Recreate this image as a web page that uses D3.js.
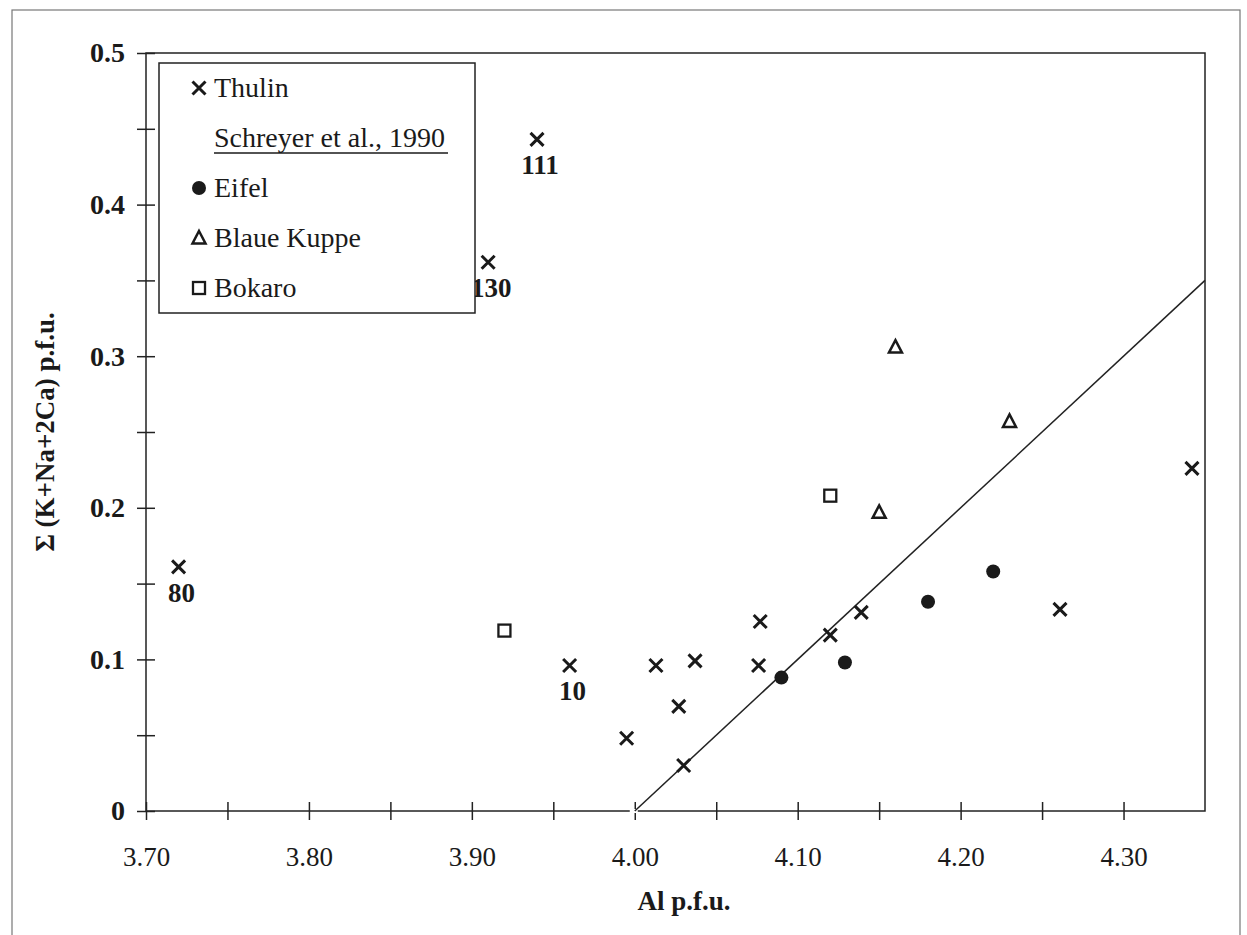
<!DOCTYPE html>
<html>
<head>
<meta charset="utf-8">
<script src="https://cdn.jsdelivr.net/npm/d3@7"></script>
<style>
  body { margin: 0; background: #fff; }
</style>
</head>
<body>
<svg id="chart" width="1247" height="935"></svg>
<script>
// data
const thulinAl  = [3.72, 3.94, 3.91, 3.96, 3.995, 4.013, 4.027, 4.03, 4.037, 4.077, 4.076, 4.12, 4.139, 4.261, 4.342];
const thulinSum = [0.161, 0.443, 0.362, 0.096, 0.048, 0.096, 0.069, 0.030, 0.099, 0.125, 0.096, 0.116, 0.131, 0.133, 0.226];
const thulinLab = ["80", "111", "130", "10", "", "", "", "", "", "", "", "", "", "", ""];

const eifelAl  = [4.09, 4.129, 4.18, 4.22];
const eifelSum = [0.088, 0.098, 0.138, 0.158];

const blaueAl  = [4.16, 4.23, 4.15];
const blaueSum = [0.306, 0.257, 0.197];

const bokaroAl  = [4.12, 3.92];
const bokaroSum = [0.208, 0.119];

const lineAl  = [4.00, 4.35];
const lineSum = [0.00, 0.35];

const xTicks = [3.70, 3.75, 3.80, 3.85, 3.90, 3.95, 4.00, 4.05, 4.10, 4.15, 4.20, 4.25, 4.30];
const xTickLabels = ["3.70", "", "3.80", "", "3.90", "", "4.00", "", "4.10", "", "4.20", "", "4.30"];
const yTicks = [0, 0.05, 0.1, 0.15, 0.2, 0.25, 0.3, 0.35, 0.4, 0.45, 0.5];
const yTickLabels = ["0", "", "0.1", "", "0.2", "", "0.3", "", "0.4", "", "0.5"];

const legendItems = ["Thulin", "Schreyer et al., 1990", "Eifel", "Blaue Kuppe", "Bokaro"];

const serif = "'Liberation Serif', 'Times New Roman', Times, serif";
const ink = "#1a1a1a";

const svg = d3.select("#chart");

// scanned page frame
svg.append("rect")
  .attr("x", 12).attr("y", 10).attr("width", 1228).attr("height", 940)
  .attr("fill", "none").attr("stroke", "#777").attr("stroke-width", 1.2);

const x = d3.scaleLinear().domain([3.70, 4.35]).range([146, 1205]);
const y = d3.scaleLinear().domain([0, 0.5]).range([811, 53]);

// plot frame
svg.append("rect")
  .attr("x", x(3.70)).attr("y", y(0.5))
  .attr("width", x(4.35) - x(3.70)).attr("height", y(0) - y(0.5))
  .attr("fill", "none").attr("stroke", "#222").attr("stroke-width", 1.5);

// x axis
const xAxis = svg.append("g")
  .attr("transform", `translate(0,${y(0)})`)
  .call(d3.axisBottom(x).tickValues(xTicks).tickSize(0).tickPadding(36)
    .tickFormat((d, i) => xTickLabels[i]))
  .attr("font-family", serif);
xAxis.select(".domain").remove();
xAxis.selectAll(".tick line").attr("y1", -9).attr("y2", 9).attr("stroke", "#222").attr("stroke-width", 1.5);
xAxis.selectAll(".tick text")
  .style("font-family", serif).style("font-size", "27px").attr("fill", ink);

// y axis
const yAxis = svg.append("g")
  .attr("transform", `translate(${x(3.70)},0)`)
  .call(d3.axisLeft(y).tickValues(yTicks).tickSize(0).tickPadding(21)
    .tickFormat((d, i) => yTickLabels[i]))
  .attr("font-family", serif);
yAxis.select(".domain").remove();
yAxis.selectAll(".tick line").attr("x1", -9).attr("x2", 9).attr("stroke", "#222").attr("stroke-width", 1.5);
yAxis.selectAll(".tick text")
  .style("font-family", serif).style("font-size", "28px").style("font-weight", "bold").attr("fill", ink);

// small break in the axis at 4.00
svg.append("rect")
  .attr("x", x(4.00) - 5).attr("y", y(0) - 2).attr("width", 8).attr("height", 4)
  .attr("fill", "#fff");

// axis titles
svg.append("text")
  .attr("x", 684).attr("y", 910)
  .attr("text-anchor", "middle").attr("fill", ink)
  .style("font-family", serif).style("font-size", "27px").style("font-weight", "bold")
  .text("Al p.f.u.");

svg.append("text")
  .attr("transform", "translate(54,432) rotate(-90)")
  .attr("text-anchor", "middle").attr("fill", ink)
  .style("font-family", serif).style("font-size", "27px").style("font-weight", "bold")
  .text("Σ (K+Na+2Ca) p.f.u.");

// 1:1 line
svg.append("path")
  .datum(lineAl.map((d, i) => [d, lineSum[i]]))
  .attr("d", d3.line().x(d => x(d[0])).y(d => y(d[1])))
  .attr("fill", "none").attr("stroke", "#222").attr("stroke-width", 1.5);

// marker helpers
function cross(g, cx, cy) {
  const s = 6.5;
  g.append("path")
    .attr("d", `M${cx - s},${cy - s}L${cx + s},${cy + s}M${cx - s},${cy + s}L${cx + s},${cy - s}`)
    .attr("stroke", ink).attr("stroke-width", 3).attr("fill", "none");
}
function dot(g, cx, cy) {
  g.append("circle").attr("cx", cx).attr("cy", cy).attr("r", 7).attr("fill", ink);
}
function tri(g, cx, cy) {
  g.append("path")
    .attr("d", `M${cx},${cy - 7}L${cx + 6.5},${cy + 5.5}L${cx - 6.5},${cy + 5.5}Z`)
    .attr("stroke", ink).attr("stroke-width", 2.5).attr("fill", "none");
}
function square(g, cx, cy) {
  g.append("rect").attr("x", cx - 6).attr("y", cy - 6).attr("width", 12).attr("height", 12)
    .attr("stroke", ink).attr("stroke-width", 2.3).attr("fill", "none");
}

const marks = svg.append("g");
thulinAl.forEach((d, i) => cross(marks, x(d), y(thulinSum[i])));
eifelAl.forEach((d, i) => dot(marks, x(d), y(eifelSum[i])));
blaueAl.forEach((d, i) => tri(marks, x(d), y(blaueSum[i])));
bokaroAl.forEach((d, i) => square(marks, x(d), y(bokaroSum[i])));

// sample labels under crosses
thulinAl.forEach((d, i) => {
  if (!thulinLab[i]) return;
  marks.append("text")
    .attr("x", x(d) + 3).attr("y", y(thulinSum[i]) + 35)
    .attr("text-anchor", "middle").attr("fill", ink)
    .style("font-family", serif).style("font-size", "27px").style("font-weight", "bold")
    .text(thulinLab[i]);
});

// legend
const lg = svg.append("g");
lg.append("rect")
  .attr("x", 159).attr("y", 63).attr("width", 316).attr("height", 250)
  .attr("fill", "#fff").attr("stroke", "#222").attr("stroke-width", 1.5);
const legendMarkers = [cross, null, dot, tri, square];
legendItems.forEach((name, i) => {
  const by = 97 + i * 50;
  if (legendMarkers[i]) legendMarkers[i](lg, 199, by - 9);
  lg.append("text")
    .attr("x", 214).attr("y", by).attr("fill", ink)
    .style("font-family", serif).style("font-size", "28px")
    .text(name);
});
lg.append("line")
  .attr("x1", 214).attr("x2", 448).attr("y1", 153).attr("y2", 153)
  .attr("stroke", ink).attr("stroke-width", 1.5);
</script>
</body>
</html>
